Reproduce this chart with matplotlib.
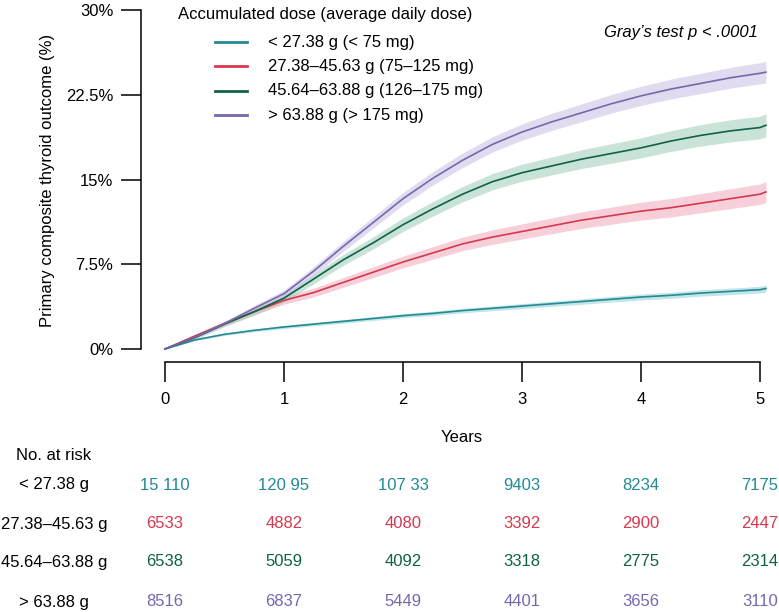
"""
Cumulative incidence of primary composite thyroid outcome by accumulated dose,
with number-at-risk table underneath.
"""
import matplotlib
matplotlib.use("Agg")
import matplotlib.pyplot as plt
from matplotlib.lines import Line2D
from matplotlib.transforms import blended_transform_factory

plt.rcParams['font.family'] = ['Liberation Sans', 'DejaVu Sans']
plt.rcParams['font.size'] = 12

# ---------------------------------------------------------------- data
years = [0, 0.25, 0.5, 0.75, 1.0, 1.25, 1.5, 1.75, 2.0, 2.25, 2.5,
         2.75, 3.0, 3.25, 3.5, 3.75, 4.0, 4.25, 4.5, 4.75, 5.0, 5.05]

low_dose = [0, 0.8, 1.3, 1.65, 1.95, 2.2, 2.45, 2.7, 2.95, 3.15, 3.4,
            3.6, 3.8, 4.0, 4.2, 4.4, 4.6, 4.75, 4.95, 5.1, 5.25, 5.35]
low_ci = [0, 0.08, 0.1, 0.12, 0.14, 0.15, 0.16, 0.17, 0.18, 0.19, 0.2,
          0.21, 0.22, 0.23, 0.24, 0.25, 0.26, 0.27, 0.28, 0.29, 0.3, 0.3]

mid_dose = [0, 1.15, 2.25, 3.3, 4.3, 5.0, 5.9, 6.8, 7.7, 8.5, 9.3,
            9.9, 10.4, 10.9, 11.4, 11.8, 12.2, 12.5, 12.9, 13.3, 13.7, 13.9]
mid_ci = [0, 0.15, 0.22, 0.28, 0.33, 0.38, 0.43, 0.48, 0.52, 0.56, 0.6,
          0.64, 0.67, 0.7, 0.73, 0.76, 0.79, 0.82, 0.85, 0.88, 0.9, 0.92]

high_dose = [0, 1.0, 2.2, 3.3, 4.5, 6.2, 7.9, 9.4, 11.0, 12.4, 13.7,
             14.8, 15.6, 16.2, 16.8, 17.3, 17.8, 18.4, 18.9, 19.3, 19.6, 19.8]
high_ci = [0, 0.15, 0.22, 0.3, 0.36, 0.42, 0.48, 0.54, 0.6, 0.64, 0.68,
           0.72, 0.76, 0.8, 0.83, 0.86, 0.89, 0.92, 0.95, 0.98, 1.0, 1.02]

top_dose = [0, 1.05, 2.25, 3.6, 4.9, 6.9, 9.1, 11.2, 13.3, 15.1, 16.7,
            18.1, 19.2, 20.1, 20.9, 21.7, 22.4, 23.0, 23.5, 24.0, 24.4, 24.5]
top_ci = [0, 0.14, 0.2, 0.26, 0.32, 0.38, 0.44, 0.5, 0.55, 0.6, 0.64,
          0.68, 0.72, 0.76, 0.79, 0.82, 0.85, 0.88, 0.9, 0.92, 0.94, 0.95]

legend_labels = ['< 27.38 g (< 75 mg)', '27.38\u201345.63 g (75\u2013125 mg)',
                 '45.64\u201363.88 g (126\u2013175 mg)', '> 63.88 g (> 175 mg)']
risk_labels = ['< 27.38 g', '27.38\u201345.63 g', '45.64\u201363.88 g', '> 63.88 g']
risk_years = [0, 1, 2, 3, 4, 5]
risk_counts = [
    ['15 110', '120 95', '107 33', '9403', '8234', '7175'],
    ['6533', '4882', '4080', '3392', '2900', '2447'],
    ['6538', '5059', '4092', '3318', '2775', '2314'],
    ['8516', '6837', '5449', '4401', '3656', '3110'],
]
yticks = [0, 7.5, 15, 22.5, 30]
ytick_labels = ['0%', '7.5%', '15%', '22.5%', '30%']

line_colors = ['#238a92', '#d6384f', '#0f6248', '#7867ad']
band_colors = ['#8fd0d6', '#f2a9b8', '#9fcdb6', '#c9bfe3']

# ---------------------------------------------------------------- figure
W, H = 779, 612
fig = plt.figure(figsize=(W / 100, H / 100), dpi=100)


def fx(px):
    return px / W


def fy(py):
    return 1 - py / H


# data x 0 -> 165px, 5 -> 760px ; y 0 -> 349px, 30 -> 10px
ax = fig.add_axes([fx(165), fy(349), fx(760) - fx(165), fy(10) - fy(349)])
ax.set_xlim(0, 5)
ax.set_ylim(0, 30)

series = [(low_dose, low_ci), (mid_dose, mid_ci),
          (high_dose, high_ci), (top_dose, top_ci)]
for (vals, ci), lc, bc in zip(series, line_colors, band_colors):
    lo = [v - c for v, c in zip(vals, ci)]
    hi = [v + c for v, c in zip(vals, ci)]
    ax.fill_between(years, lo, hi, color=bc, alpha=0.55, lw=0, clip_on=False)
    ax.plot(years, vals, color=lc, lw=1.2, clip_on=False)

# R-style detached axes
for s in ['top', 'right']:
    ax.spines[s].set_visible(False)
ax.spines['left'].set_position(('outward', 17.3))
ax.spines['bottom'].set_position(('outward', 9.4))
ax.spines['left'].set_bounds(0, 30)
ax.spines['bottom'].set_bounds(0, 5)
for s in ['left', 'bottom']:
    ax.spines[s].set_linewidth(1.1)

ax.set_yticks(yticks)
ax.set_yticklabels(ytick_labels)
ax.set_xticks(risk_years)
ax.tick_params(axis='y', length=14.4, width=1.1, pad=5.5, labelsize=12)
ax.tick_params(axis='x', length=14.4, width=1.1, pad=7, labelsize=12)

fig.text(fx(48), fy(180), 'Primary composite thyroid outcome (%)',
         rotation=90, ha='center', va='center')
fig.text(fx(462), fy(437), 'Years', ha='center', va='center')

# legend, drawn by hand
fig.text(fx(178), fy(14), 'Accumulated dose (average daily dose)',
         ha='left', va='center')
for i, (lab, lc) in enumerate(zip(legend_labels, line_colors)):
    yy = fy(42 + 24.4 * i)
    fig.add_artist(Line2D([fx(215), fx(247)], [yy, yy], color=lc, lw=2))
    fig.text(fx(268), yy, lab, ha='left', va='center')

fig.text(fx(758), fy(33), 'Gray\u2019s test p < .0001', ha='right',
         va='center', style='italic')

# number at risk table
trans = blended_transform_factory(ax.transData, fig.transFigure)
fig.text(fx(54), fy(456), 'No. at risk', ha='center', va='center')
row_y = [485, 524, 562, 602]
for lab, counts, lc, ry in zip(risk_labels, risk_counts, line_colors, row_y):
    fig.text(fx(54), fy(ry), lab, ha='center', va='center')
    for yr, c in zip(risk_years, counts):
        ax.text(yr, fy(ry), c, transform=trans, ha='center', va='center',
                color=lc)

fig.savefig('out.png', dpi=100)
